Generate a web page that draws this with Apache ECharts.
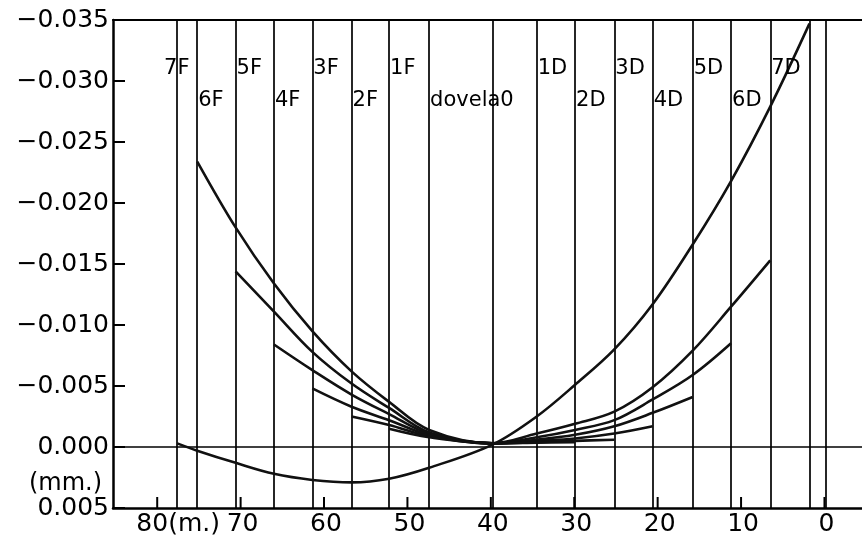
<!DOCTYPE html>
<html><head><meta charset="utf-8">
<script src="https://cdn.jsdelivr.net/npm/echarts@6/dist/echarts.min.js"></script>
<style>html,body{margin:0;padding:0;background:#fff}#c{width:862px;height:540px}</style>
</head><body><div id="c"></div>
<script>
// ---- data ----
const boundaries = [77.6, 75.2, 70.6, 66.0, 61.4, 56.7, 52.2, 47.4, 39.8, 34.5, 29.9, 25.2, 20.6, 15.8, 11.2, 6.5, 1.8, -0.2];
const stations = [77.6, 75.2, 70.6, 66.0, 61.4, 56.7, 52.2, 47.4, 39.8, 34.5, 29.9, 25.2, 20.6, 15.8, 11.2, 6.5, 1.8];
const segmentNames = ['7F','6F','5F','4F','3F','2F','1F','dovela0','1D','2D','3D','4D','5D','6D','7D'];
const segmentLabelX = [79.3, 75.2, 70.6, 66.0, 61.4, 56.7, 52.2, 47.4, 34.5, 29.9, 25.2, 20.6, 15.8, 11.2, 6.5];
const segmentLabelY = [-0.0310, -0.0284, -0.0310, -0.0284, -0.0310, -0.0284, -0.0310, -0.0284, -0.0310, -0.0284, -0.0310, -0.0284, -0.0310, -0.0284, -0.0310];
const xTicks = [80, 70, 60, 50, 40, 30, 20, 10, 0];
const xTickLabels = ['80', '70', '60', '50', '40', '30', '20', '10', '0'];
const xUnit = '(m.)';
const yUnit = '(mm.)';
const yMin = -0.035, yMax = 0.005, yStep = 0.005;
const xMin = -4.5, xMax = 85.3;

const curve7 = [-0.0003, 0.0003, 0.0013, 0.0022, 0.0027, 0.0029, 0.0026, 0.0017, -0.0002, -0.0025, -0.0051, -0.0080, -0.0117, -0.0166, -0.0218, -0.0279, -0.0347];
const curve6 = [null, -0.0234, -0.0180, -0.0134, -0.0095, -0.0062, -0.0037, -0.0014, -0.0003, -0.0011, -0.0019, -0.0029, -0.0049, -0.0079, -0.0115, -0.0153, null];
const curve5 = [null, null, -0.0144, -0.0111, -0.0078, -0.0052, -0.0032, -0.0012, -0.0003, -0.0008, -0.0014, -0.0022, -0.0039, -0.0059, -0.0085, null, null];
const curve4 = [null, null, null, -0.0084, -0.0063, -0.0043, -0.0027, -0.0011, -0.0003, -0.0006, -0.0010, -0.0017, -0.0028, -0.0041, null, null, null];
const curve3 = [null, null, null, null, -0.0048, -0.0033, -0.0022, -0.0010, -0.0003, -0.0005, -0.0007, -0.0011, -0.0017, null, null, null, null];
const curve2 = [null, null, null, null, null, -0.0025, -0.0018, -0.0009, -0.0003, -0.0004, -0.0005, -0.0006, null, null, null, null, null];
const curve1 = [null, null, null, null, null, null, -0.0015, -0.0008, -0.0003, -0.00035, -0.0004, null, null, null, null, null, null];
const curves = [curve7, curve6, curve5, curve4, curve3, curve2, curve1];

// ---- chart ----
const FONT = 'DejaVu Sans';
const chart = echarts.init(document.getElementById('c'), null, {renderer: 'canvas'});

function pairs(vals) {
  const out = [];
  vals.forEach((v, i) => { if (v !== null) out.push([stations[i], v]); });
  return out;
}

const curveSeries = curves.map(c => ({
  type: 'line', xAxisIndex: 0, yAxisIndex: 0,
  data: pairs(c), smooth: 0.35, showSymbol: false, symbol: 'none',
  lineStyle: {color: '#111', width: 2.6}, z: 5, silent: true
}));

const option = {
  animation: false,
  backgroundColor: '#fff',
  grid: {left: 113, right: 0, top: 20, bottom: 32, containLabel: false},
  xAxis: [
    {type: 'value', min: xMin, max: xMax, inverse: true, position: 'bottom',
     axisLine: {show: true, onZero: false, lineStyle: {color: '#000', width: 2.5}},
     axisTick: {show: false}, axisLabel: {show: false}, splitLine: {show: false}},
    {type: 'value', min: xMin, max: xMax, inverse: true, position: 'top',
     axisLine: {show: true, onZero: false, lineStyle: {color: '#000', width: 2.2}},
     axisTick: {show: false}, axisLabel: {show: false}, splitLine: {show: false}}
  ],
  yAxis: {
    type: 'value', min: yMin, max: yMax, interval: yStep, inverse: true,
    axisLine: {show: true, onZero: false, lineStyle: {color: '#000', width: 2.5}},
    axisTick: {show: true, inside: true, length: 12, lineStyle: {color: '#000', width: 2}},
    axisLabel: {
      margin: 4, color: '#000', fontFamily: FONT, fontSize: 25,
      formatter: v => (v < -1e-9 ? '\u2212' + Math.abs(v).toFixed(3) : Math.abs(v).toFixed(3))
    },
    splitLine: {show: false}
  },
  graphic: [{
    type: 'text', right: 862 - 102, top: 472,
    style: {text: yUnit, fill: '#000', font: '24px "' + FONT + '"'}
  }],
  series: [
    {
      type: 'custom', xAxisIndex: 0, yAxisIndex: 0, silent: true, clip: false, z: 6,
      data: xTicks.map((t, i) => [t, i]),
      renderItem: function (params, api) {
        const i = api.value(1);
        const p = api.coord([api.value(0), yMax]);
        const f = '25px "' + FONT + '"';
        const children = [
          {type: 'line', shape: {x1: p[0], y1: p[1], x2: p[0], y2: p[1] - 11},
           style: {stroke: '#000', lineWidth: 2}},
        ];
        if (i === 0) {
          children.push({type: 'text', x: p[0] - 5, y: p[1] + 4,
            style: {text: xTickLabels[i], fill: '#000', font: f, align: 'center', verticalAlign: 'top'}});
          children.push({type: 'text', x: p[0] + 11, y: p[1] + 4,
            style: {text: xUnit, fill: '#000', font: f, align: 'left', verticalAlign: 'top'}});
        } else {
          children.push({type: 'text', x: p[0] + 2, y: p[1] + 4,
            style: {text: xTickLabels[i], fill: '#000', font: f, align: 'center', verticalAlign: 'top'}});
        }
        return {type: 'group', children: children};
      },
      markLine: {
        silent: true, symbol: 'none', animation: false,
        label: {show: false},
        lineStyle: {color: '#000', width: 1.7, type: 'solid'},
        data: boundaries.map(b => ({xAxis: b})).concat([{yAxis: 0}])
      }
    },
    {
      type: 'scatter', xAxisIndex: 0, yAxisIndex: 0, silent: true, z: 7,
      symbolSize: 0, itemStyle: {opacity: 1, color: '#000'},
      data: segmentNames.map((n, i) => [segmentLabelX[i], segmentLabelY[i], n]),
      label: {
        show: true, position: 'right', distance: 1,
        formatter: p => p.data[2],
        color: '#000', fontFamily: FONT, fontSize: 21
      }
    }
  ].concat(curveSeries)
};
chart.setOption(option);
</script>
</body></html>
